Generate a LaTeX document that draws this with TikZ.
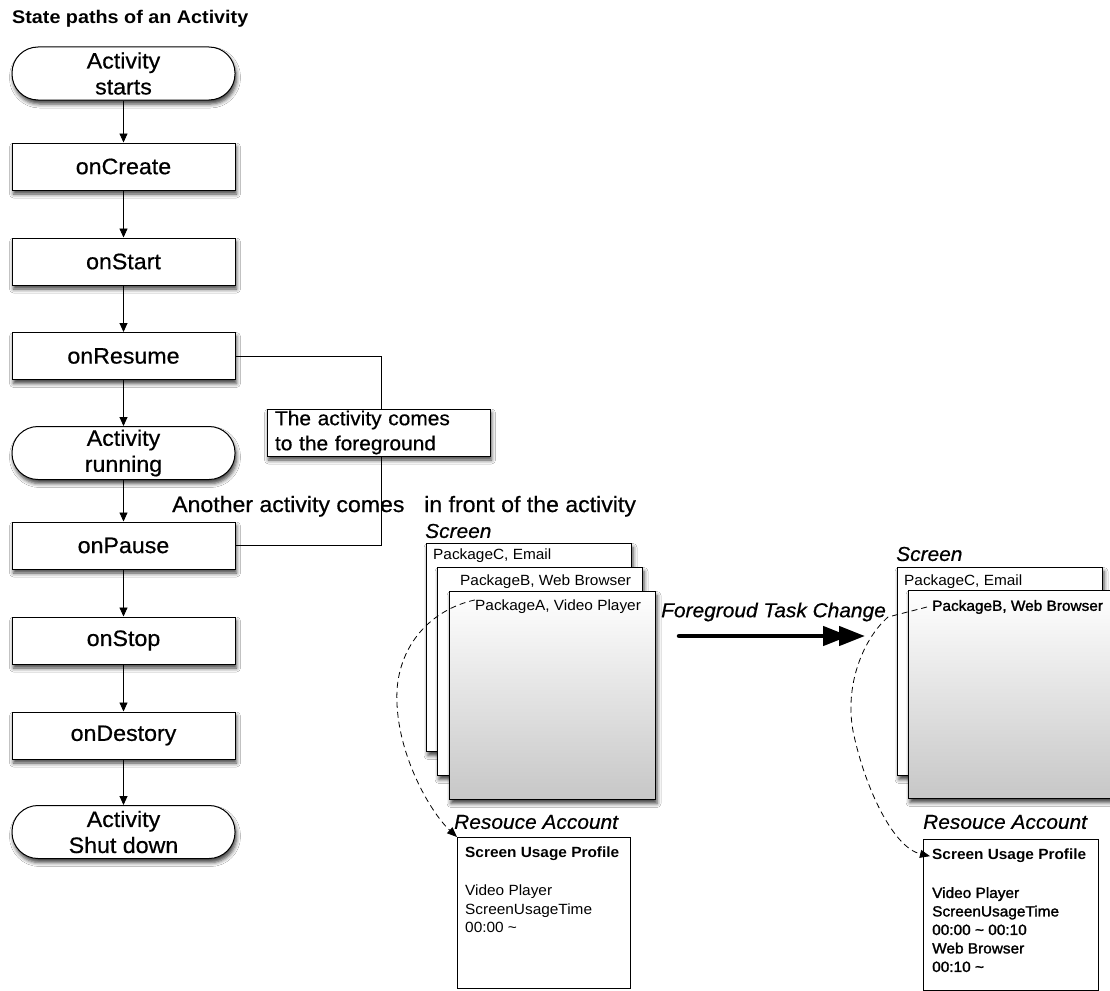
\documentclass[tikz,border=0pt]{standalone}
\usepackage{fontspec}
\setmainfont[FakeStretch=1.04]{Liberation Sans}
\newfontfamily\medfont[FakeStretch=1.04,FakeBold=0.6]{Liberation Sans}
\newfontfamily\heavyfont[FakeStretch=1.04,FakeBold=1.6]{Liberation Sans}
\newfontfamily\titlefont[FakeStretch=1.08]{Liberation Sans Bold}
\usetikzlibrary{arrows.meta,shadows.blur}

\tikzset{
  softshadow/.style={blur shadow={shadow xshift=1.5pt,shadow yshift=-4pt,shadow blur radius=4pt,shadow opacity=75}},
  titletext/.style={font=\fontsize{18.3}{22}\selectfont\titlefont, inner sep=0pt},
  statebox/.style={draw, line width=1pt, fill=white, minimum width=223pt, minimum height=47pt,
    inner sep=0pt, align=center, softshadow, font=\fontsize{22.3}{26}\selectfont\medfont},
  terminal/.style={statebox, minimum height=53pt, rounded corners=26pt},
  flow/.style={-{Triangle[length=9pt,width=8pt]}, line width=0.9pt},
  link/.style={line width=0.9pt},
  note/.style={draw, line width=1pt, fill=white, text width=207pt, inner xsep=8pt, inner ysep=0pt,
    minimum height=47pt, align=left, softshadow, font=\fontsize{20.1}{25}\selectfont\medfont},
  biglbl/.style={font=\fontsize{22.2}{26}\selectfont\medfont, inner sep=0pt},
  caption/.style={font=\fontsize{20.1}{24}\selectfont\medfont\itshape, inner sep=0pt},
  card/.style={draw, line width=1pt, fill=white, minimum width=205pt, minimum height=208pt,
    inner sep=0pt, anchor=north west, softshadow},
  frontcard/.style={card, top color=white, bottom color=black!22},
  pkg/.style={font=\fontsize{14.8}{17}\selectfont, inner sep=0pt, anchor=west},
  profile/.style={draw, line width=1pt, fill=white, minimum width=173pt, minimum height=151pt,
    inner sep=0pt, anchor=north west},
  ptext/.style={font=\fontsize{14.8}{18.5}\selectfont, inner sep=0pt, anchor=north west, align=left},
  dlink/.style={dash pattern=on 6pt off 4pt, line width=0.8pt, -{Triangle[length=10pt,width=8pt]}},
  bigarrow/.style={line width=4.5pt, line cap=round,
    -{Triangle[length=26pt,width=19pt,sep=-10pt]Triangle[length=26pt,width=19pt]}}
}

\begin{document}
\begin{tikzpicture}[x=1pt,y=-1pt]
\clip (0,0) rectangle (1110,990);
\fill[white] (0,0) rectangle (1110,990);

% ---- life cycle of an activity ----
\node[titletext, anchor=west] (title) at (12,19) {State paths of an Activity};

\node[terminal] (start)   at (123.5,73.5)  {Activity\\starts};
\node[statebox] (create)  at (123.5,166.5) {onCreate};
\node[statebox] (onstart) at (123.5,261.5) {onStart};
\node[statebox] (resume)  at (123.5,356)   {onResume};
\node[terminal] (running) at (123.5,453)   {Activity\\running};
\node[statebox] (pause)   at (123.5,545.5) {onPause};
\node[statebox] (stop)    at (123.5,640.5) {onStop};
\node[statebox] (destroy) at (123.5,735.5) {onDestory};
\node[terminal] (shut)    at (123.5,832)   {Activity\\Shut down};

\draw[flow] (start)   -- (create);
\draw[flow] (create)  -- (onstart);
\draw[flow] (onstart) -- (resume);
\draw[flow] (resume)  -- (running);
\draw[flow] (running) -- (pause);
\draw[flow] (pause)   -- (stop);
\draw[flow] (stop)    -- (destroy);
\draw[flow] (destroy) -- (shut);

% loop between onPause and onResume
\draw[link] (resume.east) -- ++(146,0) |- (pause.east);
\node[note] (fg) at (378.5,432.5) {The activity comes\\to the foreground};

\node[biglbl, anchor=base west] (another) at (172,512) {Another activity comes};
\node[biglbl, anchor=base west] (infront) at (424,512) {in front of the activity};

% ---- screen stack before the switch ----
\node[caption, anchor=west] (scr1) at (425,531) {Screen};
\node[card] (c1) at (426,543) {};
\node[pkg] (lc1) at (433,556) {PackageC, Email};
\node[card] (b1) at (437,567) {};
\node[pkg] (lb1) at (460,582) {PackageB, Web Browser};
\node[frontcard, minimum width=206pt] (a1) at (449,591) {};
\node[pkg] (la1) at (475,607) {PackageA, Video Player};

\node[caption, anchor=west] (ra1) at (454,822) {Resouce Account};
\node[profile] (pf1) at (457,837) {};
\node[ptext, font=\fontsize{14.8}{18.5}\selectfont\bfseries] (h1) at (465,847) {Screen Usage Profile};
\node[ptext] (t1) at (465,885) {Video Player\\ScreenUsageTime\\00:00 \textasciitilde};

\draw[dlink] (la1.north west) .. controls (430,610) and (400,645) .. (397,690)
  .. controls (394,750) and (430,812) .. (pf1.north west);

% ---- foreground change ----
\node[caption, anchor=west] (ftc) at (661,612) {Foregroud Task Change};
\coordinate (fs) at (679,636);
\coordinate (fe) at (865,636);
\draw[bigarrow] (fs) -- (fe);

% ---- screen stack after the switch ----
\node[caption, anchor=west] (scr2) at (896,554) {Screen};
\node[card] (c2) at (897,567) {};
\node[pkg] (lc2) at (904,582) {PackageC, Email};
\node[frontcard] (b2) at (908,590) {};
\node[pkg, font=\fontsize{14.8}{17}\selectfont\heavyfont] (lb2) at (932,607) {PackageB, Web Browser};

\node[caption, anchor=west] (ra2) at (923,822) {Resouce Account};
\node[profile, minimum width=175pt] (pf2) at (923,839) {};
\node[ptext, font=\fontsize{14.8}{18.5}\selectfont\bfseries] (h2) at (932,849) {Screen Usage Profile};
\node[ptext, font=\fontsize{14.8}{18.5}\selectfont\heavyfont] (t2) at (932,887)
  {Video Player\\ScreenUsageTime\\00:00 \textasciitilde{} 00:10\\Web Browser\\00:10 \textasciitilde};

\draw[dlink] ([xshift=-5pt]lb2.west) -- (888,617) .. controls (862,640) and (842,690) .. (855,740)
  .. controls (868,795) and (895,848) .. ([xshift=-2pt]h2.west);
\end{tikzpicture}
\end{document}
